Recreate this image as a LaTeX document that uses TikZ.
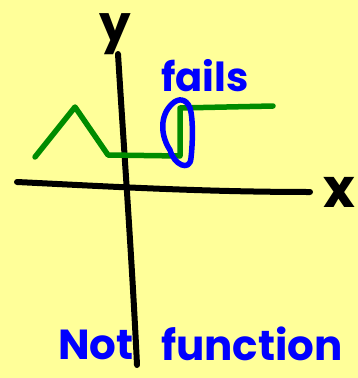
\documentclass[tikz,border=0pt]{standalone}
\usepackage{fontspec}
\newfontfamily\hand{Poppins}
\definecolor{bgyellow}{RGB}{255,255,153}
\definecolor{plotgreen}{RGB}{0,140,0}
\definecolor{penblue}{RGB}{0,0,255}
\begin{document}
\begin{tikzpicture}[x=1pt,y=-1pt,
  ink/.style={line width=6pt,line cap=round,line join=round},
  lbl/.style={inner sep=0pt,font=\hand\bfseries}]
\fill[bgyellow] (0,0) rectangle (358,378);
\useasboundingbox (0,0) rectangle (358,378);
% axes
\draw[ink,black] (118,54) .. controls (124,150) and (132,260) .. (137,365);
\draw[ink,black] (17,182) .. controls (100,186) and (200,192) .. (310,192);
\node[lbl,black,font=\hand\bfseries\fontsize{50}{50}\selectfont] (ylab) at (115,34) {y};
\node[lbl,black,font=\hand\bfseries\fontsize{54}{54}\selectfont] (xlab) at (339,192) {x};
% green curve
\draw[ink,plotgreen,line width=5.5pt] (35,157) -- (75,107) -- (108,155) -- (180,156) -- (180,108) -- (273,106);
% blue oval
\draw[ink,penblue,line width=5.5pt] (172,104) .. controls (160,115) and (160,135) .. (170,150)
  .. controls (174,165) and (190,172) .. (191,158)
  .. controls (193,140) and (193,118) .. (190,108)
  .. controls (186,98) and (178,98) .. (172,104);
\node[lbl,penblue,font=\hand\bfseries\fontsize{40}{40}\selectfont] (fails) at (205,76) {fails};
\node[lbl,penblue,font=\hand\bfseries\fontsize{42}{42}\selectfont] (notlab) at (96,345) {Not};
\node[lbl,penblue,font=\hand\bfseries\fontsize{42}{42}\selectfont] (funclab) at (252,344) {function};
\end{tikzpicture}
\end{document}
